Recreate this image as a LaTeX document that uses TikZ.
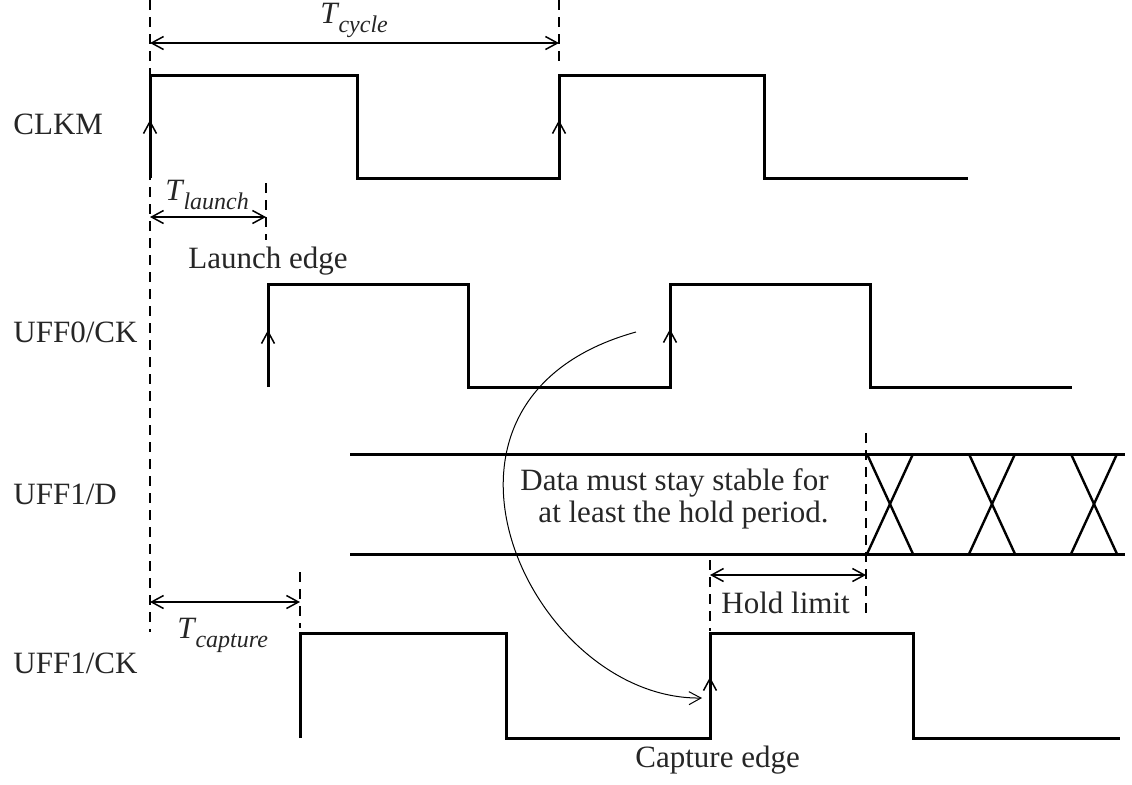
\documentclass[tikz,border=0pt]{standalone}
\usepackage{fontspec}
\setmainfont{Liberation Serif}
\usetikzlibrary{arrows.meta}
\newcommand{\Tsubs}[1]{\textit{T}\kern-0.03em\raisebox{-0.3em}{\fontsize{12}{12}\selectfont\itshape #1}}
\begin{document}
\begin{tikzpicture}[x=0.5pt,y=-0.5pt,
  mybarb/.tip={Straight Barb[length=6pt,width=6.5pt]},
  wave/.style={line width=1.5pt, line join=miter, line cap=butt},
  guide/.style={line width=1pt, dash pattern=on 5pt off 3.5pt},
  dim/.style={line width=0.75pt, mybarb-mybarb},
  edgemark/.style={line width=0.75pt, -mybarb},
  flow/.style={line width=0.5pt, -mybarb},
  xline/.style={line width=1.2pt},
  lbl/.style={inner sep=0pt, font=\fontsize{15.5}{16}\selectfont, text=black!85}
]
\useasboundingbox (0,0) rectangle (1132,784);

% guide lines
\draw[guide] (150,0) -- (150,632);
\draw[guide] (559,0) -- (559,62);
\draw[guide] (266,183) -- (266,240);
\draw[guide] (300,572) -- (300,628);
\draw[guide] (866,433) -- (866,619);
\draw[guide] (710,560) -- (710,631);

% waveforms
\draw[wave] (150,178) -- (150,75) -- (357,75) -- (357,178) -- (559,178) -- (559,75) -- (764,75) -- (764,178) -- (968,178);
\draw[wave] (268,387) -- (268,284) -- (468,284) -- (468,387) -- (670,387) -- (670,284) -- (870,284) -- (870,387) -- (1072,387);
\draw[wave] (300,738) -- (300,633) -- (506,633) -- (506,738) -- (710,738) -- (710,633) -- (913,633) -- (913,738) -- (1120,738);

% rising edge marks
\draw[edgemark] (150,150) -- (150,120);
\draw[edgemark] (559,150) -- (559,120);
\draw[edgemark] (268,360) -- (268,330);
\draw[edgemark] (670,360) -- (670,329);
\draw[edgemark] (710,705) -- (710,677);

% data bus
\draw[wave] (350,454) -- (1125,454);
\draw[wave] (350,554) -- (1125,554);
\foreach \a in {867,969,1071}{
  \draw[xline] (\a,454) -- (\a+46,554);
  \draw[xline] (\a+46,454) -- (\a,554);
}

% dimension arrows
\coordinate (cyc0) at (150,43);  \coordinate (cyc1) at (559,43);
\coordinate (lau0) at (150,217); \coordinate (lau1) at (266,217);
\coordinate (cap0) at (150,602); \coordinate (cap1) at (300,602);
\coordinate (hol0) at (710,575); \coordinate (hol1) at (866,575);
\draw[dim] (cyc0) -- (cyc1);
\draw[dim] (lau0) -- (lau1);
\draw[dim] (cap0) -- (cap1);
\draw[dim] (hol0) -- (hol1);

% curved arrow
\coordinate (hs) at (636,332);
\coordinate (he) at (702,698);
\draw[flow] (hs) .. controls (390,400) and (530,700) .. (he);

% labels
\node[lbl, anchor=base west] (clkm) at (13,134) {CLKM};
\node[lbl, anchor=base west] (uff0) at (13,342) {UFF0/CK};
\node[lbl, anchor=base west] (uff1d) at (13,504) {UFF1/D};
\node[lbl, anchor=base west] (uff1ck) at (13,673) {UFF1/CK};

\node[lbl, anchor=base west] (tcyc) at (320,23) {\Tsubs{cycle}};
\node[lbl, anchor=base west] (tlau) at (165,200) {\Tsubs{launch}};
\node[lbl, anchor=base west] (tcap) at (177,638) {\Tsubs{capture}};
\node[lbl, anchor=base west] (ledge) at (188,268) {Launch edge};
\node[lbl, anchor=base west] (hlim) at (721,613) {Hold limit};
\node[lbl, anchor=base west] (cedge) at (635,767) {Capture edge};
\node[lbl, anchor=east, align=right] (data) at (829,499) {Data must stay stable for\\at least the hold period.};
\end{tikzpicture}
\end{document}
